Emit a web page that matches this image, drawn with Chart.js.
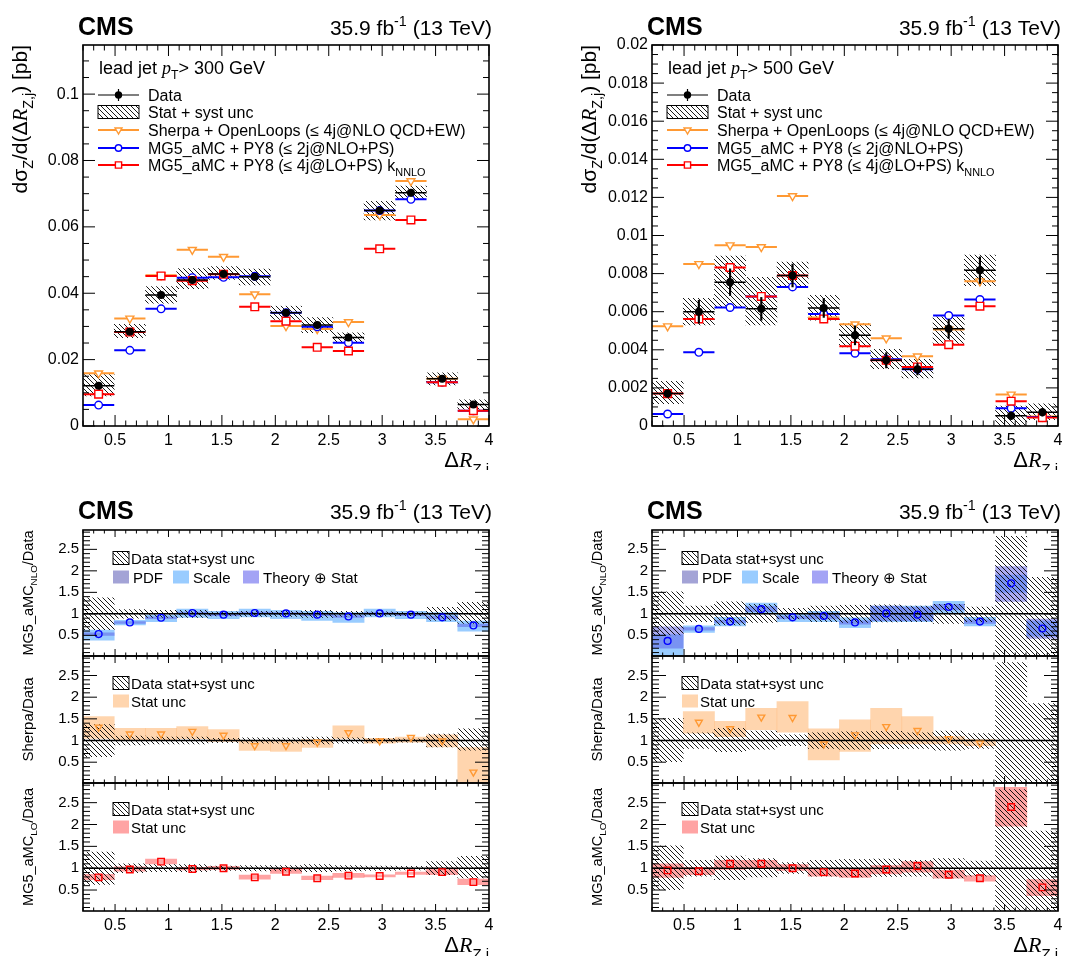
<!DOCTYPE html>
<html>
<head>
<meta charset="utf-8">
<script src="https://cdn.jsdelivr.net/npm/chart.js@4.4.1/dist/chart.umd.min.js"></script>
<style>
  body { margin: 0; background: #fff; }
  #page { position: relative; width: 1080px; height: 956px; overflow: hidden; background: #fff; }
  #page canvas { position: absolute; }
</style>
</head>
<body>
<div id="page">
  <canvas id="mainL" width="540" height="470" style="left:0;top:0"></canvas>
  <canvas id="mainR" width="540" height="470" style="left:540px;top:0"></canvas>
  <canvas id="ratL1" width="540" height="486" style="left:0;top:470px"></canvas>
  <canvas id="ratL2" width="540" height="486" style="left:0;top:470px"></canvas>
  <canvas id="ratL3" width="540" height="486" style="left:0;top:470px"></canvas>
  <canvas id="ratR1" width="540" height="486" style="left:540px;top:470px"></canvas>
  <canvas id="ratR2" width="540" height="486" style="left:540px;top:470px"></canvas>
  <canvas id="ratR3" width="540" height="486" style="left:540px;top:470px"></canvas>
</div>
<script>
// bin edges in Delta R(Z,j): 13 bins from 0.2 to 4
const binEdges = [0.2, 0.4923, 0.7846, 1.0769, 1.3692, 1.6615, 1.9538, 2.2462, 2.5385, 2.8308, 3.1231, 3.4154, 3.7077, 4.0];
const xTickVals = [0.5, 1, 1.5, 2, 2.5, 3, 3.5, 4];
const yTicksL = [0, 0.02, 0.04, 0.06, 0.08, 0.1];
const yTicksR = [0, 0.002, 0.004, 0.006, 0.008, 0.01, 0.012, 0.014, 0.016, 0.018, 0.02];
const ratioTicks = [0.5, 1, 1.5, 2, 2.5];
const ratioRef = 1;

// lead jet pT > 300 GeV, cross section [pb]
const dataL   = [0.0121, 0.0284, 0.0395, 0.0440, 0.0458, 0.0450, 0.0341, 0.0304, 0.0267, 0.0649, 0.0703, 0.0142, 0.0065];
const statL   = [0.0007, 0.0006, 0.0007, 0.0007, 0.0007, 0.0007, 0.0006, 0.0006, 0.0006, 0.0009, 0.0010, 0.0005, 0.0004];
const hatchLoL = [0.0091, 0.0266, 0.0370, 0.0414, 0.0442, 0.0425, 0.0321, 0.0281, 0.0253, 0.0621, 0.0683, 0.0124, 0.0051];
const hatchHiL = [0.0155, 0.0306, 0.0420, 0.0474, 0.0480, 0.0473, 0.0361, 0.0327, 0.0281, 0.0677, 0.0723, 0.0160, 0.0079];
const sherpaL = [0.0159, 0.0324, 0.0454, 0.0531, 0.0510, 0.0397, 0.0301, 0.0292, 0.0313, 0.0636, 0.0738, 0.0142, 0.0020];
const nloL    = [0.0063, 0.0228, 0.0353, 0.0447, 0.0448, 0.0451, 0.0341, 0.0299, 0.0251, 0.0649, 0.0683, 0.0132, 0.0046];
const loL     = [0.0096, 0.0283, 0.0452, 0.0438, 0.0457, 0.0359, 0.0316, 0.0237, 0.0226, 0.0534, 0.0621, 0.0132, 0.0046];

// lead jet pT > 500 GeV, cross section [pb]
const dataR   = [0.00170, 0.00600, 0.00755, 0.00615, 0.00790, 0.00620, 0.00476, 0.00345, 0.00298, 0.00510, 0.00818, 0.00054, 0.00072];
const statR   = [0.00020, 0.00060, 0.00070, 0.00060, 0.00060, 0.00050, 0.00050, 0.00040, 0.00030, 0.00050, 0.00070, 0.00020, 0.00020];
const hatchLoR = [0.00117, 0.00530, 0.00623, 0.00530, 0.00727, 0.00555, 0.00415, 0.00301, 0.00252, 0.00433, 0.00737, 0.0, 0.00033];
const hatchHiR = [0.00235, 0.00670, 0.00892, 0.00780, 0.00860, 0.00686, 0.00538, 0.00403, 0.00350, 0.00573, 0.00897, 0.00105, 0.00117];
const sherpaR = [0.00524, 0.00851, 0.00949, 0.00939, 0.01207, 0.00570, 0.00534, 0.00460, 0.00366, 0.00506, 0.00760, 0.00166, 0.00050];
const nloR    = [0.00063, 0.00387, 0.00622, 0.00680, 0.00730, 0.00588, 0.00382, 0.00350, 0.00298, 0.00580, 0.00664, 0.00093, 0.00047];
const loR     = [0.00170, 0.00562, 0.00832, 0.00680, 0.00790, 0.00562, 0.00419, 0.00345, 0.00310, 0.00427, 0.00629, 0.00130, 0.00044];

// ratios to data, pT > 300 GeV
const relLoL   = [0.63, 0.90, 0.92, 0.92, 0.95, 0.94, 0.94, 0.92, 0.94, 0.95, 0.96, 0.85, 0.78];
const relHiL   = [1.37, 1.10, 1.08, 1.08, 1.05, 1.06, 1.06, 1.08, 1.06, 1.05, 1.04, 1.15, 1.27];
const nloRatL  = [0.53, 0.80, 0.91, 1.02, 0.98, 1.02, 1.01, 0.98, 0.94, 1.01, 0.98, 0.92, 0.73];
const scaleLoL = [0.39, 0.74, 0.82, 0.92, 0.89, 0.93, 0.89, 0.85, 0.80, 0.93, 0.89, 0.82, 0.60];
const scaleHiL = [0.62, 0.85, 0.97, 1.11, 1.06, 1.11, 1.08, 1.06, 1.03, 1.11, 1.06, 1.03, 0.83];
const theoLoL  = [0.50, 0.78, 0.89, 1.00, 0.96, 1.00, 0.99, 0.96, 0.92, 0.99, 0.96, 0.89, 0.70];
const theoHiL  = [0.56, 0.82, 0.93, 1.04, 1.00, 1.04, 1.03, 1.00, 0.96, 1.03, 1.00, 0.95, 0.76];
const shRatL   = [1.31, 1.15, 1.15, 1.21, 1.12, 0.88, 0.88, 0.96, 1.18, 0.99, 1.07, 0.99, 0.27];
const shLoL    = [1.05, 1.02, 1.02, 1.04, 0.98, 0.77, 0.75, 0.84, 1.05, 0.94, 0.96, 0.85, 0.0];
const shHiL    = [1.55, 1.28, 1.28, 1.32, 1.25, 0.99, 0.98, 1.02, 1.34, 1.05, 1.08, 1.13, 0.84];
const loRatL   = [0.79, 0.97, 1.15, 0.98, 1.00, 0.79, 0.92, 0.77, 0.83, 0.82, 0.88, 0.91, 0.68];
const loLoL    = [0.74, 0.93, 1.10, 0.96, 0.97, 0.75, 0.88, 0.74, 0.79, 0.80, 0.86, 0.85, 0.62];
const loHiL    = [0.86, 1.03, 1.21, 1.02, 1.04, 0.84, 0.98, 0.82, 0.88, 0.85, 0.91, 1.00, 0.75];

// ratios to data, pT > 500 GeV
const relLoR   = [0.51, 0.82, 0.74, 0.80, 0.88, 0.82, 0.80, 0.81, 0.82, 0.78, 0.82, 0.0, 0.0];
const relHiR   = [1.51, 1.18, 1.28, 1.22, 1.13, 1.18, 1.20, 1.21, 1.18, 1.22, 1.16, 2.80, 1.85];
const nloRatR  = [0.37, 0.65, 0.82, 1.11, 0.92, 0.95, 0.80, 1.01, 0.98, 1.16, 0.82, 1.71, 0.66];
const scaleLoR = [0.05, 0.57, 0.72, 1.03, 0.82, 0.82, 0.68, 0.82, 0.82, 1.03, 0.72, 1.50, 0.48];
const scaleHiR = [0.52, 0.72, 0.92, 1.25, 1.00, 1.06, 0.91, 1.18, 1.18, 1.29, 0.92, 1.90, 0.83];
const theoLoR  = [0.20, 0.62, 0.79, 1.05, 0.89, 0.88, 0.76, 0.84, 0.84, 1.09, 0.78, 1.29, 0.43];
const theoHiR  = [0.70, 0.68, 0.85, 1.17, 0.95, 1.02, 0.84, 1.18, 1.16, 1.22, 0.86, 2.10, 0.88];
const shRatR   = [null, 1.42, 1.27, 1.54, 1.53, 0.92, 1.13, 1.32, 1.23, 1.04, 0.94, null, null];
const shLoR    = [null, 1.17, 1.09, 1.25, 1.19, 0.55, 0.75, 0.92, 0.92, 0.92, 0.88, null, null];
const shHiR    = [null, 1.67, 1.44, 1.74, 1.90, 1.27, 1.48, 1.74, 1.55, 1.09, 1.02, null, null];
const loRatR   = [0.95, 0.93, 1.10, 1.10, 1.00, 0.91, 0.88, 0.97, 1.05, 0.85, 0.77, 2.40, 0.56];
const loLoR    = [0.79, 0.85, 0.97, 1.00, 0.95, 0.82, 0.79, 0.87, 0.91, 0.77, 0.70, 1.96, 0.37];
const loHiR    = [1.10, 1.02, 1.18, 1.18, 1.08, 0.98, 0.98, 1.06, 1.15, 0.95, 0.83, 2.85, 0.74];

const SANS = "'Liberation Sans', Arial, Helvetica, sans-serif";
const SERIF = "'Liberation Serif', 'Times New Roman', serif";
const C_SH = '#ff9933', C_NLO = '#0000ff', C_LO = '#ff0000';
const C_SCALE = 'rgb(153,204,255)', C_THEO = 'rgba(90,90,230,0.5)';
const C_SHSTAT = 'rgba(255,185,120,0.6)', C_LOSTAT = 'rgba(255,90,90,0.55)';

Chart.defaults.font.family = SANS;
Chart.defaults.color = '#000';

function makeHatch() {
    const c = document.createElement('canvas');
    c.width = 5; c.height = 5;
    const g = c.getContext('2d');
    g.strokeStyle = '#000';
    g.lineWidth = 0.9;
    g.beginPath();
    g.moveTo(0, 0); g.lineTo(5, 5);
    g.moveTo(-1, 4); g.lineTo(1, 6);
    g.moveTo(4, -1); g.lineTo(6, 1);
    g.stroke();
    return g.createPattern(c, 'repeat');
}
const hatch = makeHatch();

const mid = i => (binEdges[i] + binEdges[i + 1]) / 2;
const fmt = v => String(+(+v).toFixed(4));

// horizontal line across each bin
function segs(vals, color, width, order) {
    const d = [];
    vals.forEach((v, i) => {
        if (v == null) return;
        d.push({ x: binEdges[i], y: v }, { x: binEdges[i + 1], y: v }, { x: binEdges[i + 1], y: null });
    });
    return { type: 'line', data: d, borderColor: color, borderWidth: width, pointRadius: 0,
             showLine: true, spanGaps: false, fill: false, order };
}
function marks(vals, style, color, fill, r, order) {
    return { type: 'scatter',
             data: vals.map((v, i) => ({ x: mid(i), y: v })).filter(p => p.y != null),
             pointStyle: style === 'tri' ? 'triangle' : style, rotation: style === 'tri' ? 180 : 0,
             pointRadius: r, borderColor: color, backgroundColor: fill, borderWidth: 1.4, order };
}
function band(lo, hi, fill, order, thick) {
    return { type: 'bar',
             data: lo.map((l, i) => ({ x: mid(i), y: [l, hi[i]] })).filter(p => p.y[0] != null),
             backgroundColor: fill, borderWidth: 0, grouped: false, barPercentage: 1,
             categoryPercentage: 1, barThickness: thick, order };
}
function unity(order) {
    return { type: 'line', data: [{ x: 0.2, y: ratioRef }, { x: 4, y: ratioRef }], borderColor: '#000',
             borderWidth: 1.5, pointRadius: 0, showLine: true, fill: false, order };
}

// text with sub/superscripts
function fontFor(p, size) {
    const s = (p.sub || p.sup) ? size * 0.68 : size;
    if (p.it) return `italic ${s}px ${SERIF}`;
    if (p.b) return `bold ${s}px ${SANS}`;
    return `${s}px ${SANS}`;
}
function richWidth(ctx, parts, size) {
    let w = 0;
    parts.forEach(p => { ctx.font = fontFor(p, size); w += ctx.measureText(p.t).width; });
    return w;
}
function rich(ctx, parts, x, y, size, align) {
    let cx = align === 'right' ? x - richWidth(ctx, parts, size) : x;
    ctx.textAlign = 'left';
    ctx.textBaseline = 'alphabetic';
    parts.forEach(p => {
        ctx.font = fontFor(p, size);
        const dy = p.sub ? size * 0.3 : p.sup ? -size * 0.42 : 0;
        ctx.fillText(p.t, cx, y + dy);
        cx += ctx.measureText(p.t).width;
    });
}
function vrich(ctx, parts, x, y, size, align) {
    ctx.save();
    ctx.translate(x, y);
    ctx.rotate(-Math.PI / 2);
    const w = richWidth(ctx, parts, size);
    rich(ctx, parts, align === 'top' ? -w : -w / 2, 0, size);
    ctx.restore();
}

function glyph(ctx, style, x, y, r, color, fill) {
    ctx.save();
    ctx.strokeStyle = color; ctx.fillStyle = fill; ctx.lineWidth = 1.4;
    ctx.beginPath();
    if (style === 'circle') ctx.arc(x, y, r, 0, 2 * Math.PI);
    else if (style === 'rect') { const s = r * Math.SQRT1_2; ctx.rect(x - s, y - s, 2 * s, 2 * s); }
    else {
        let a = Math.PI;
        ctx.moveTo(x + Math.sin(a) * r, y - Math.cos(a) * r);
        a += 2 * Math.PI / 3; ctx.lineTo(x + Math.sin(a) * r, y - Math.cos(a) * r);
        a += 2 * Math.PI / 3; ctx.lineTo(x + Math.sin(a) * r, y - Math.cos(a) * r);
        ctx.closePath();
    }
    ctx.fill(); ctx.stroke();
    ctx.restore();
}
function line(ctx, x0, y0, x1, y1) { ctx.beginPath(); ctx.moveTo(x0, y0); ctx.lineTo(x1, y1); ctx.stroke(); }

function tickList(min, max, minor, majors) {
    const out = [];
    const k0 = Math.ceil(min / minor - 1e-6), k1 = Math.floor(max / minor + 1e-6);
    for (let k = k0; k <= k1; k++) {
        const v = k * minor;
        out.push([v, majors.some(m => Math.abs(m - v) < minor * 0.01)]);
    }
    return out;
}
// ROOT style frame: inward ticks on all four sides
function framePlugin(ax) {
    return {
        id: 'rootFrame',
        afterDatasetsDraw(chart) {
            const { ctx, chartArea: a, scales: { x, y } } = chart;
            ctx.save();
            ctx.strokeStyle = '#000';
            ctx.lineWidth = 1;
            ctx.beginPath();
            tickList(x.min, x.max, 0.1, xTickVals).forEach(([v, major]) => {
                const p = x.getPixelForValue(v), l = major ? ax.xLen[0] : ax.xLen[1];
                ctx.moveTo(p, a.bottom); ctx.lineTo(p, a.bottom - l);
                ctx.moveTo(p, a.top); ctx.lineTo(p, a.top + l);
            });
            tickList(y.min, y.max, ax.yMinor, ax.yTicks).forEach(([v, major]) => {
                const p = y.getPixelForValue(v), l = major ? ax.yLen[0] : ax.yLen[1];
                ctx.moveTo(a.left, p); ctx.lineTo(a.left + l, p);
                ctx.moveTo(a.right, p); ctx.lineTo(a.right - l, p);
            });
            ctx.stroke();
            ctx.lineWidth = 1.6;
            ctx.strokeRect(a.left, a.top, a.right - a.left, a.bottom - a.top);
            ctx.restore();
        }
    };
}

function makeChart(id, frame, datasets, ax) {
    const cv = document.getElementById(id);
    const W = cv.width, H = cv.height;
    return new Chart(cv, {
        type: 'scatter',
        data: { datasets },
        options: {
            responsive: false, animation: false, events: [],
            layout: { padding: { left: 0, top: frame[1], right: W - frame[2], bottom: 0 } },
            plugins: { legend: { display: false }, tooltip: { enabled: false } },
            scales: {
                x: {
                    type: 'linear', min: 0.2, max: 4, offset: false,
                    grid: { display: false, drawTicks: false }, border: { display: false },
                    afterBuildTicks: s => { s.ticks = xTickVals.map(v => ({ value: v })); },
                    afterFit: s => { s.height = H - frame[3]; },
                    ticks: { display: ax.xLabels, autoSkip: false, maxRotation: 0, padding: 5,
                             font: { size: 16 }, color: '#000', callback: fmt }
                },
                y: {
                    type: 'linear', min: ax.yMin, max: ax.yMax,
                    grid: { display: false, drawTicks: false }, border: { display: false },
                    afterBuildTicks: s => { s.ticks = ax.yTicks.map(v => ({ value: v })); },
                    afterFit: s => { s.width = frame[0]; },
                    ticks: { autoSkip: false, padding: 4, font: { size: ax.yFont }, color: '#000', callback: fmt }
                }
            }
        },
        plugins: [framePlugin(ax), { id: 'txt', afterDraw: ch => { ch.ctx.save(); ch.ctx.fillStyle = '#000'; ax.draw(ch.ctx); ch.ctx.restore(); } }]
    });
}

function header(ctx, dx, base) {
    rich(ctx, [{ t: 'CMS', b: 1 }], 78 + dx, base, 25);
    rich(ctx, [{ t: '35.9 fb' }, { t: '-1', sup: 1 }, { t: ' (13 TeV)' }], 492 + dx, base, 21, 'right');
}
const xTitle = [{ t: 'Δ' }, { t: 'R', it: 1 }, { t: 'Z,j', sub: 1 }];

function mainLegend(ctx, dx, cut) {
    const x0 = 98 + dx, x1 = 139 + dx, xm = (x0 + x1) / 2, tx = 148 + dx;
    rich(ctx, [{ t: 'lead jet ' }, { t: 'p', it: 1 }, { t: 'T', sub: 1 }, { t: '> ' + cut + ' GeV' }], 99 + dx, 74, 18);
    const rows = [95, 112, 130, 148, 165];
    ctx.strokeStyle = '#000'; ctx.lineWidth = 1.2;
    line(ctx, x0, rows[0], x1, rows[0]);
    line(ctx, xm, rows[0] - 6, xm, rows[0] + 6);
    glyph(ctx, 'circle', xm, rows[0], 3, '#000', '#000');
    ctx.fillStyle = hatch;
    ctx.fillRect(x0, rows[1] - 6.5, x1 - x0, 13);
    ctx.strokeStyle = '#000'; ctx.lineWidth = 1;
    ctx.strokeRect(x0, rows[1] - 6.5, x1 - x0, 13);
    [[C_SH, 'tri', 4], [C_NLO, 'circle', 3.2], [C_LO, 'rect', 4.4]].forEach(([c, s, r], k) => {
        const y = rows[2 + k];
        ctx.strokeStyle = c; ctx.lineWidth = 2;
        line(ctx, x0, y, x1, y);
        glyph(ctx, s, xm, y, r, c, '#fff');
    });
    const labels = [
        [{ t: 'Data' }],
        [{ t: 'Stat + syst unc' }],
        [{ t: 'Sherpa + OpenLoops (≤ 4j@NLO QCD+EW)' }],
        [{ t: 'MG5_aMC + PY8 (≤ 2j@NLO+PS)' }],
        [{ t: 'MG5_aMC + PY8 (≤ 4j@LO+PS) k' }, { t: 'NNLO', sub: 1 }]
    ];
    ctx.fillStyle = '#000';
    labels.forEach((p, k) => rich(ctx, p, tx, rows[k] + 5.8, 16));
}

function buildMain(id, dx, cut, s) {
    const frame = [83 + dx, 45, 489 + dx, 426];
    const datasets = [
        marks(s.data, 'circle', '#000', '#000', 3.3, 0),
        band(s.data.map((v, i) => v - s.stat[i]), s.data.map((v, i) => v + s.stat[i]), '#000', 1, 1.5),
        segs(s.data, '#000', 1.5, 2),
        marks(s.lo, 'rect', C_LO, '#fff', 5.4, 3),
        segs(s.lo, C_LO, 2, 4),
        marks(s.nlo, 'circle', C_NLO, '#fff', 3.8, 5),
        segs(s.nlo, C_NLO, 2, 6),
        marks(s.sherpa, 'tri', C_SH, '#fff', 4.6, 7),
        segs(s.sherpa, C_SH, 2, 8),
        band(s.hLo, s.hHi, hatch, 9)
    ];
    makeChart(id, frame, datasets, {
        yMin: 0, yMax: s.yMax, yTicks: s.yTicks, yMinor: s.yMinor, yFont: 16, xLabels: true,
        xLen: [11, 5.5], yLen: [12, 6],
        draw: ctx => {
            header(ctx, dx, 35);
            vrich(ctx, [{ t: 'dσ' }, { t: 'Z', sub: 1 }, { t: '/d(Δ' }, { t: 'R', it: 1 }, { t: 'Z,j', sub: 1 }, { t: ') [pb]' }],
                  27 + dx, 45, 21, 'top');
            rich(ctx, xTitle, 489 + dx, 467, 22, 'right');
            mainLegend(ctx, dx, cut);
        }
    });
}

function ratioLegend(ctx, dx, y1, y2, kind, color) {
    ctx.fillStyle = hatch;
    ctx.fillRect(113 + dx, y1 - 6.5, 16, 13);
    ctx.strokeStyle = '#000'; ctx.lineWidth = 1;
    ctx.strokeRect(113 + dx, y1 - 6.5, 16, 13);
    ctx.fillStyle = '#000';
    rich(ctx, [{ t: 'Data stat+syst unc' }], 131 + dx, y1 + 5.5, 15);
    if (kind === 'nlo') {
        [['rgb(163,163,214)', 113, 133, 'PDF'], [C_SCALE, 173, 193, 'Scale'], ['rgb(163,163,245)', 243, 263, 'Theory ⊕ Stat']]
            .forEach(([c, bx, tx, t]) => {
                ctx.fillStyle = c; ctx.fillRect(bx + dx, y2 - 6.5, 16, 13);
                ctx.fillStyle = '#000'; rich(ctx, [{ t }], tx + dx, y2 + 5.5, 15);
            });
    } else {
        ctx.fillStyle = color; ctx.fillRect(113 + dx, y2 - 6.5, 16, 13);
        ctx.fillStyle = '#000'; rich(ctx, [{ t: 'Stat unc' }], 131 + dx, y2 + 5.5, 15);
    }
}

function buildRatio(prefix, dx, r) {
    const frames = [[83, 60, 489, 186], [83, 186, 489, 313], [83, 313, 489, 441]]
        .map(f => [f[0] + dx, f[1], f[2] + dx, f[3]]);
    const base = { yMin: 0.02, yMax: 2.95, yTicks: ratioTicks, yMinor: 0.1, yFont: 15, xLen: [7, 3.5], yLen: [14, 7] };
    const centre = f => (f[1] + f[3]) / 2;
    makeChart(prefix + '1', frames[0], [
        marks(r.nlo, 'circle', C_NLO, 'rgba(0,0,0,0)', 3.4, 0),
        unity(1),
        band(r.relLo, r.relHi, hatch, 2),
        band(r.thLo, r.thHi, C_THEO, 3),
        band(r.scLo, r.scHi, C_SCALE, 4)
    ], Object.assign({}, base, { xLabels: false, draw: ctx => {
        header(ctx, dx, 49);
        vrich(ctx, [{ t: 'MG5_aMC' }, { t: 'NLO', sub: 1 }, { t: '/Data' }], 33 + dx, centre(frames[0]), 14.5, 'center');
        ratioLegend(ctx, dx, 88, 107, 'nlo');
    } }));
    makeChart(prefix + '2', frames[1], [
        marks(r.sh, 'tri', C_SH, 'rgba(0,0,0,0)', 4, 0),
        unity(1),
        band(r.relLo, r.relHi, hatch, 2),
        band(r.shLo, r.shHi, C_SHSTAT, 3)
    ], Object.assign({}, base, { xLabels: false, draw: ctx => {
        vrich(ctx, [{ t: 'Sherpa/Data' }], 33 + dx, centre(frames[1]), 15, 'center');
        ratioLegend(ctx, dx, 213, 231, 'stat', C_SHSTAT);
    } }));
    makeChart(prefix + '3', frames[2], [
        marks(r.lo, 'rect', C_LO, 'rgba(0,0,0,0)', 4.6, 0),
        unity(1),
        band(r.relLo, r.relHi, hatch, 2),
        band(r.loLo, r.loHi, C_LOSTAT, 3)
    ], Object.assign({}, base, { xLabels: true, draw: ctx => {
        vrich(ctx, [{ t: 'MG5_aMC' }, { t: 'LO', sub: 1 }, { t: '/Data' }], 33 + dx, centre(frames[2]), 14.5, 'center');
        ratioLegend(ctx, dx, 339, 357, 'stat', C_LOSTAT);
        rich(ctx, xTitle, 489 + dx, 482, 22, 'right');
    } }));
}

buildMain('mainL', 0, 300, { data: dataL, stat: statL, hLo: hatchLoL, hHi: hatchHiL, sherpa: sherpaL, nlo: nloL, lo: loL,
                             yMax: 0.1148, yTicks: yTicksL, yMinor: 0.005 });
buildMain('mainR', 29, 500, { data: dataR, stat: statR, hLo: hatchLoR, hHi: hatchHiR, sherpa: sherpaR, nlo: nloR, lo: loR,
                              yMax: 0.02, yTicks: yTicksR, yMinor: 0.0005 });
buildRatio('ratL', 0, { relLo: relLoL, relHi: relHiL, nlo: nloRatL, scLo: scaleLoL, scHi: scaleHiL, thLo: theoLoL, thHi: theoHiL,
                        sh: shRatL, shLo: shLoL, shHi: shHiL, lo: loRatL, loLo: loLoL, loHi: loHiL });
buildRatio('ratR', 29, { relLo: relLoR, relHi: relHiR, nlo: nloRatR, scLo: scaleLoR, scHi: scaleHiR, thLo: theoLoR, thHi: theoHiR,
                         sh: shRatR, shLo: shLoR, shHi: shHiR, lo: loRatR, loLo: loLoR, loHi: loHiR });
</script>
</body>
</html>
